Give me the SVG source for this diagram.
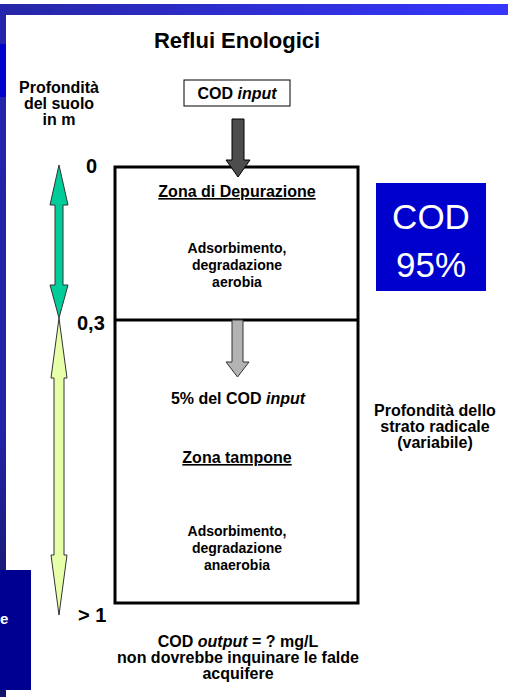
<svg xmlns="http://www.w3.org/2000/svg" width="508" height="697" viewBox="0 0 508 697">
<defs>
<linearGradient id="topbar" x1="0" y1="0" x2="1" y2="0">
<stop offset="0" stop-color="#2626A6"/>
<stop offset="1" stop-color="#3636FF"/>
</linearGradient>
<linearGradient id="leftcol" x1="0" y1="0" x2="0" y2="1">
<stop offset="0" stop-color="#2424AC"/>
<stop offset="0.75" stop-color="#2222A8"/>
<stop offset="1" stop-color="#1A1A7A"/>
</linearGradient>
<style>
text{font-family:"Liberation Sans",Arial,Helvetica,sans-serif;font-weight:bold;fill:#000;text-anchor:middle}
.t{font-size:22px}
.b{font-size:16px}
.s{font-size:14px}
.n{font-size:20px;text-anchor:start}
.w{fill:#fff;font-weight:normal;font-size:35px}
.u{text-decoration:underline}
.i{font-style:italic}
.box{fill:none;stroke:#000;stroke-width:3}
</style>
</defs>
<rect x="0" y="0" width="508" height="697" fill="#fff"/>
<g id="background">
<rect x="0" y="4" width="508" height="11" fill="url(#topbar)"/>
<rect x="0" y="4" width="6" height="566" fill="url(#leftcol)"/>
<rect x="0" y="44" width="6" height="53" fill="#0000CC"/>
<rect x="0" y="570" width="31" height="120" fill="#000090"/>
<rect x="0" y="690" width="6" height="7" fill="#15156A"/>
<text x="0" y="624" style="font-size:15px;fill:#fff;text-anchor:start">e</text>
</g>
<g id="title"><text class="t" x="237" y="48">Reflui Enologici</text></g>
<g id="depth-label">
<text class="b" x="59" y="93">Profondità</text>
<text class="b" x="59" y="109">del suolo</text>
<text class="b" x="59" y="125">in m</text>
</g>
<g id="depth-values">
<text class="n" x="86" y="173">0</text>
<text class="n" x="77" y="330">0,3</text>
<text class="n" x="78" y="622">&gt; 1</text>
</g>
<g id="cod-input">
<rect x="184" y="80" width="106" height="26" fill="#fff" stroke="#000" stroke-width="1"/>
<text class="b" x="237" y="99">COD <tspan class="i">input</tspan></text>
</g>
<g id="soil">
<rect class="box" x="115" y="167" width="243" height="436"/>
<line x1="115" y1="320" x2="358" y2="320" stroke="#000" stroke-width="3"/>
</g>
<g id="zona-depurazione">
<text class="b u" x="237" y="197">Zona di Depurazione</text>
<text class="s" x="237" y="253">Adsorbimento,</text>
<text class="s" x="237" y="270">degradazione</text>
<text class="s" x="237" y="287">aerobia</text>
</g>
<g id="cod95">
<rect x="376" y="183" width="110" height="108" fill="#0000CC"/>
<text class="w" x="431" y="229">COD</text>
<text class="w" x="431" y="277">95%</text>
</g>
<g id="zona-tampone">
<text class="b" x="238" y="404">5% del COD <tspan class="i">input</tspan></text>
<text class="b u" x="237" y="463">Zona tampone</text>
<text class="s" x="237" y="536">Adsorbimento,</text>
<text class="s" x="237" y="553">degradazione</text>
<text class="s" x="237" y="570">anaerobia</text>
</g>
<g id="root-depth">
<text class="b" x="435" y="416">Profondità dello</text>
<text class="b" x="435" y="432">strato radicale</text>
<text class="b" x="435" y="448">(variabile)</text>
</g>
<g id="output">
<text class="b" x="238" y="647">COD <tspan class="i">output</tspan> = ? mg/L</text>
<text class="b" x="238" y="663">non dovrebbe inquinare le falde</text>
<text class="b" x="238" y="679">acquifere</text>
</g>
<g id="connectors">
<path d="M232,119 H244 V160 H250 L238,177 L226,160 H232 Z" fill="#4D4D4D" stroke="#000" stroke-width="1"/>
<path d="M232,320 H243 V362 H249 L237.5,377 L226,362 H232 Z" fill="#B3B3B3" stroke="#333" stroke-width="1"/>
<path d="M59,165 L68,205 H63 V285 H68 L59,318 L50,285 H55 V205 H50 Z" fill="#00CC99" stroke="#333" stroke-width="1"/>
<path d="M59,318 L67,378 H64 V555 H67 L59,615 L51,555 H54 V378 H51 Z" fill="#E6FFA8" stroke="#333" stroke-width="1"/>
</g>
</svg>
